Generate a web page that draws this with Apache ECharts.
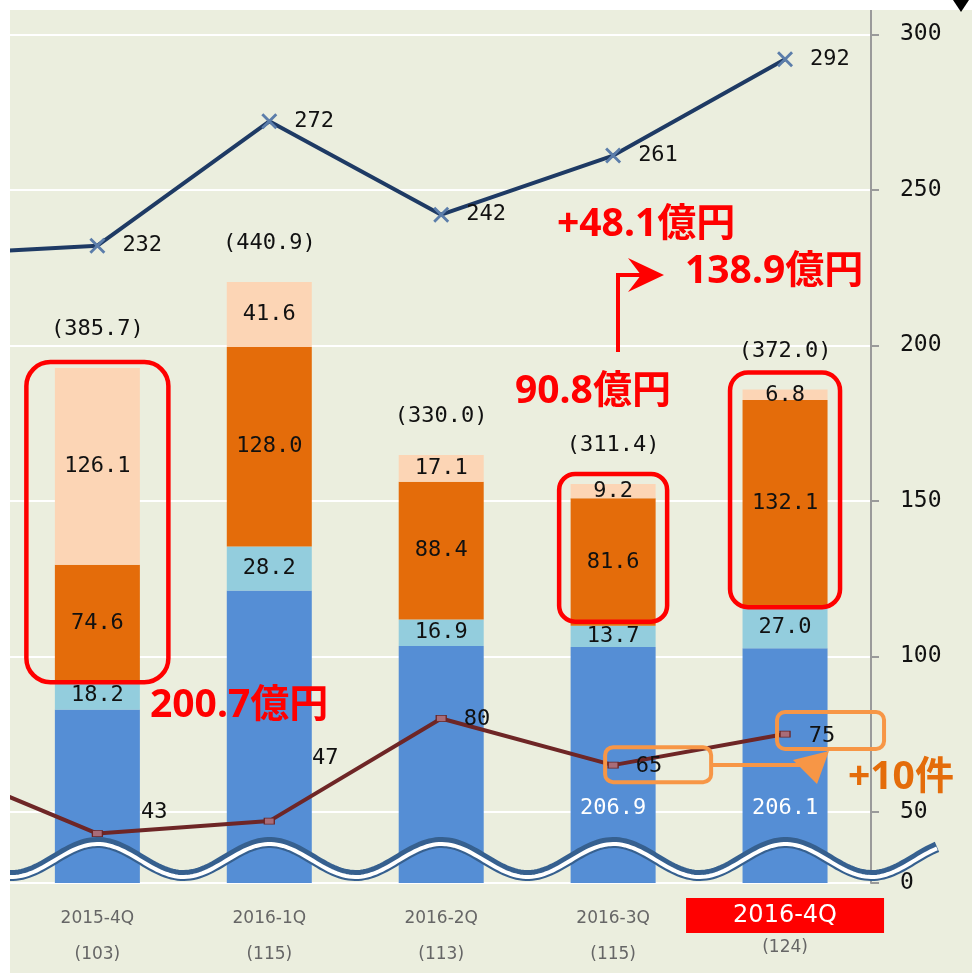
<!DOCTYPE html>
<html>
<head>
<meta charset="utf-8">
<script src="https://cdn.jsdelivr.net/npm/echarts@6/dist/echarts.min.js"></script>
<style>
html, body { margin: 0; padding: 0; background: #fff; }
#main { width: 972px; height: 973px; }
</style>
</head>
<body>
<div id="main"></div>
<script>
// 四半期（先頭は左端で切れている前期分）
const quarters = ['2015-3Q', '2015-4Q', '2016-1Q', '2016-2Q', '2016-3Q', '2016-4Q'];
const quarterCounts = [null, 103, 115, 113, 115, 124];

// 積み上げ棒（億円）
const baseAmount = [null, 166.8, 243.1, 207.6, 206.9, 206.1];
const lightAmount = [null, 18.2, 28.2, 16.9, 13.7, 27.0];
const orangeAmount = [null, 74.6, 128.0, 88.4, 81.6, 132.1];
const peachAmount = [null, 126.1, 41.6, 17.1, 9.2, 6.8];
const totalAmount = [null, 385.7, 440.9, 330.0, 311.4, 372.0];
const baseLabelShown = ['2016-3Q', '2016-4Q'];

// 折れ線
const upperLine = [229, 232, 272, 242, 261, 292];
const lowerLine = [66, 43, 47, 80, 65, 75];

// 右軸目盛（下端は省略記号の下で「0」と表示）
const axisFloor = 27.1;
const tickValues = [axisFloor, 50, 100, 150, 200, 250, 300];
const tickLabels = ['0', '50', '100', '150', '200', '250', '300'];

const mono = '"DejaVu Sans Mono", monospace';
const jp = '"Noto Sans", "Noto Sans CJK JP", sans-serif';

// ラベル位置の微調整（下の折れ線）
const lowerNudge = [[0, 0], [38, -21], [37, -63], [17, 1], [17, 1], [18, 2]];

const chart = echarts.init(document.getElementById('main'), null, { renderer: 'canvas' });

function stackBar(name, color, values, labelFor) {
  return {
    name: name,
    type: 'bar',
    stack: 'amount',
    yAxisIndex: 1,
    barWidth: 85,
    itemStyle: { color: color },
    label: { show: true, position: 'inside', color: '#111', fontFamily: mono, fontSize: 22,
             formatter: p => p.value.toFixed(1) },
    data: values.map((v, i) => labelFor ? { value: v, label: labelFor(i) } : v),
    z: 2
  };
}

const xPath = 'path://M2,0 L8,6 L14,0 L16,2 L10,8 L16,14 L14,16 L8,10 L2,16 L0,14 L6,8 L0,2 Z';

const option = {
  animation: false,
  backgroundColor: '#EBEEDE',
  grid: { left: -160.5, right: 101, top: 10, bottom: 90, containLabel: false, outerBoundsMode: 'none' },
  xAxis: {
    type: 'category',
    data: quarters,
    axisLine: { show: false },
    axisTick: { show: false },
    axisLabel: {
      interval: 0,
      margin: 15,
      formatter: (v, i) => {
        const n = quarterCounts[i] == null ? '' : '(' + quarterCounts[i] + ')';
        const head = i === quarters.length - 1 ? '{hl|' + v + '}' : '{q|' + v + '}';
        return head + '\n{n|' + n + '}';
      },
      rich: {
        q: { fontFamily: '"DejaVu Sans", sans-serif', fontSize: 17, color: '#666', lineHeight: 42 },
        hl: { fontFamily: '"DejaVu Sans", sans-serif', fontSize: 24, color: '#fff', backgroundColor: '#FF0000',
              width: 198, height: 35, lineHeight: 35, align: 'center' },
        n: { fontFamily: '"DejaVu Sans", sans-serif', fontSize: 17, color: '#666', lineHeight: 30 }
      }
    }
  },
  yAxis: [
    {
      type: 'value',
      position: 'right',
      min: axisFloor,
      max: 307.8,
      axisLine: { show: true, lineStyle: { color: '#9A9A9A', width: 2 } },
      axisTick: { show: true, length: 8, customValues: tickValues, lineStyle: { color: '#9A9A9A', width: 2 } },
      splitLine: { show: true, lineStyle: { color: '#FFFFFF', width: 2 } },
      axisLabel: {
        margin: 29,
        customValues: tickValues,
        color: '#111',
        fontFamily: mono,
        fontSize: 23,
        formatter: v => {
          const k = tickValues.indexOf(v);
          return k >= 0 ? tickLabels[k] : '';
        }
      }
    },
    {
      type: 'value',
      position: 'right',
      show: false,
      min: 55.6,
      max: 615.3,
      splitLine: { show: false }
    }
  ],
  series: [
    stackBar('base', '#558ED5', baseAmount, i => (
      baseLabelShown.indexOf(quarters[i]) >= 0
        ? { show: true, position: 'insideBottom', distance: 64, color: '#fff' }
        : { show: false })),
    stackBar('light', '#93CDDD', lightAmount),
    stackBar('orange', '#E46C0A', orangeAmount),
    stackBar('peach', '#FCD5B5', peachAmount),
    {
      name: 'total',
      type: 'scatter',
      yAxisIndex: 1,
      symbolSize: 1,
      itemStyle: { color: 'rgba(0,0,0,0)', opacity: 1 },
      label: {
        show: true, position: 'top', distance: 27, color: '#111', fontFamily: mono, fontSize: 22,
        formatter: p => '(' + p.value.toFixed(1) + ')'
      },
      data: totalAmount,
      z: 4
    },
    {
      name: 'upper',
      type: 'line',
      yAxisIndex: 0,
      symbol: xPath,
      symbolSize: 16,
      showAllSymbol: true,
      itemStyle: { color: '#5B7DAA' },
      lineStyle: { color: '#1E3A64', width: 4 },
      label: { show: true, position: 'right', distance: 17, color: '#111', fontFamily: mono, fontSize: 22 },
      data: upperLine,
      z: 5
    },
    {
      name: 'lower',
      type: 'line',
      yAxisIndex: 0,
      symbol: 'rect',
      symbolSize: [10, 6],
      showAllSymbol: true,
      itemStyle: { color: '#A86C78', borderColor: '#6B2424', borderWidth: 1 },
      lineStyle: { color: '#6E2626', width: 4 },
      label: { show: true, position: 'right', distance: 0, color: '#111', fontFamily: mono, fontSize: 22 },
      data: lowerLine.map((v, i) => ({ value: v, label: { offset: lowerNudge[i] } })),
      z: 5
    }
  ]
};

chart.setOption(option);

// 注記（赤枠・矢印・文字・波線）
const barPx = (q, v) => chart.convertToPixel({ seriesIndex: 0 }, [q, v]);
const linePx = (q, v) => chart.convertToPixel({ seriesIndex: 6 }, [q, v]);

const redBoxes = [
  { q: '2015-4Q', half: 71, padTop: 6, padBottom: 1, r: 24 },
  { q: '2016-3Q', half: 54, padTop: 10, padBottom: -4, r: 16 },
  { q: '2016-4Q', half: 55, padTop: 17, padBottom: 1, r: 18 }
];
const orangeBoxes = [
  { q: '2016-3Q', left: -8, right: 98, up: 18, down: 17 },
  { q: '2016-4Q', left: -8, right: 99, up: 22, down: 15 }
];

const graphics = [];
redBoxes.forEach(b => {
  const i = quarters.indexOf(b.q);
  const top = barPx(b.q, totalAmount[i]);
  const bottom = barPx(b.q, baseAmount[i] + lightAmount[i]);
  graphics.push({
    type: 'rect', z: 50,
    shape: { x: top[0] - b.half, y: top[1] - b.padTop, width: b.half * 2,
             height: bottom[1] + b.padBottom - (top[1] - b.padTop), r: b.r },
    style: { fill: null, stroke: '#FF0000', lineWidth: 4.5 }
  });
});
orangeBoxes.forEach(b => {
  const i = quarters.indexOf(b.q);
  const p = linePx(b.q, lowerLine[i]);
  graphics.push({
    type: 'rect', z: 50,
    shape: { x: p[0] + b.left, y: p[1] - b.up, width: b.right - b.left, height: b.up + b.down, r: 8 },
    style: { fill: null, stroke: '#F79646', lineWidth: 4 }
  });
});

// 矢印
graphics.push(
  { type: 'polyline', z: 50, shape: { points: [[618, 352], [618, 275], [642, 275]] },
    style: { stroke: '#FF0000', lineWidth: 4, fill: null } },
  { type: 'polygon', z: 50, shape: { points: [[628, 258], [664, 275], [628, 292], [641, 275]] },
    style: { fill: '#FF0000' } },
  { type: 'polyline', z: 50, shape: { points: [[711, 765], [812, 765]] },
    style: { stroke: '#F79646', lineWidth: 4, fill: null } },
  { type: 'polygon', z: 50, shape: { points: [[793, 760], [829, 751], [817, 784]] },
    style: { fill: '#F79646' } }
);

// 文字
const notes = [
  { text: '200.7億円', x: 150, y: 706, color: '#FF0000' },
  { text: '90.8億円', x: 515, y: 392, color: '#FF0000' },
  { text: '+48.1億円', x: 557, y: 225, color: '#FF0000' },
  { text: '138.9億円', x: 685, y: 272, color: '#FF0000' },
  { text: '+10件', x: 848, y: 778, color: '#E46C0A' }
];
notes.forEach(n => graphics.push({
  type: 'text', z: 60, x: n.x, y: n.y,
  style: { text: n.text, fill: n.color, fontFamily: jp, fontWeight: 'bold', fontSize: 39,
           align: 'left', verticalAlign: 'middle' }
}));

// 波線（軸の省略記号）
const wave = [];
for (let x = 10; x <= 937; x += 3) {
  wave.push([x, 859 - 16.5 * Math.cos(2 * Math.PI * (x - 97.5) / 172)]);
}
graphics.push(
  { type: 'polyline', z: 70, shape: { points: wave }, style: { stroke: '#36608F', lineWidth: 11, fill: null } },
  { type: 'polyline', z: 71, shape: { points: wave.map(p => [p[0], p[1] + 1.5]) },
    style: { stroke: '#FFFFFF', lineWidth: 4, fill: null } }
);

// 余白と右上の三角
graphics.push(
  { type: 'rect', z: 90, shape: { x: 0, y: 0, width: 972, height: 10 }, style: { fill: '#FFFFFF' } },
  { type: 'rect', z: 90, shape: { x: 0, y: 0, width: 10, height: 973 }, style: { fill: '#FFFFFF' } },
  { type: 'polygon', z: 91, shape: { points: [[953, 0], [969, 0], [961, 12]] }, style: { fill: '#000' } }
);

chart.setOption({ graphic: graphics });
</script>
</body>
</html>
